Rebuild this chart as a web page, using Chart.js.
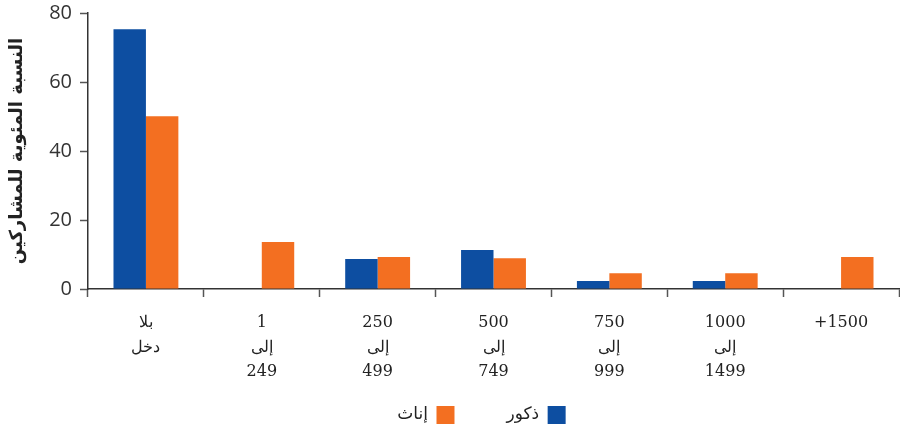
<!DOCTYPE html>
<html lang="ar">
<head>
<meta charset="utf-8">
<script src="https://cdn.jsdelivr.net/npm/chart.js@4/dist/chart.umd.min.js"></script>
<style>
  html, body { margin: 0; padding: 0; background: #ffffff; }
  #wrap { width: 900px; height: 425px; position: relative; }
  /* Arabic text flow for all canvas text */
  #chart { direction: rtl; }
</style>
</head>
<body>
<div id="wrap"><canvas id="chart"></canvas></div>
<script>
// Income brackets (monthly), shown as stacked lines under each group
const categories = [
  ['بلا', 'دخل'],
  ['1', 'إلى', '249'],
  ['250', 'إلى', '499'],
  ['500', 'إلى', '749'],
  ['750', 'إلى', '999'],
  ['1000', 'إلى', '1499'],
  ['1500+']
];

// Percentage of participants per bracket
const maleValues   = [75.3, 0, 8.7, 11.3, 2.3, 2.3, 0];
const femaleValues = [50.1, 13.6, 9.3, 8.9, 4.6, 4.6, 9.3];

const seriesNames = ['ذكور', 'إناث'];
const yAxisTitle = 'النسبة المئوية للمشاركين';
const yTickValues = [0, 20, 40, 60, 80];

const BLUE = '#0d4ea1';
const ORANGE = '#f36f21';

// Moves the legend block after layout: a little to the right so it sits
// under the bars, and up into the space below the three-line axis labels
const legendShift = {
  id: 'legendShift',
  afterLayout(chart) {
    const lg = chart.legend;
    if (!lg) return;
    lg.left += 32; lg.right += 32;
    lg.top -= 40; lg.bottom -= 40;
  }
};

new Chart(document.getElementById('chart'), {
  type: 'bar',
  data: {
    labels: categories,
    datasets: [
      { label: seriesNames[0], data: maleValues, backgroundColor: BLUE, borderWidth: 0 },
      { label: seriesNames[1], data: femaleValues, backgroundColor: ORANGE, borderWidth: 0 }
    ]
  },
  plugins: [legendShift],
  options: {
    responsive: true,
    maintainAspectRatio: false,
    animation: false,
    layout: { padding: { top: 13, right: 1, bottom: -49, left: 0 } },
    datasets: { bar: { categoryPercentage: 0.56, barPercentage: 1.0 } },
    plugins: {
      tooltip: { enabled: false },
      legend: {
        position: 'bottom',
        rtl: true,
        textDirection: 'rtl',
        labels: {
          boxWidth: 18,
          boxHeight: 18,
          padding: 52,
          color: '#222',
          font: { family: '"DejaVu Sans", "Noto Sans", sans-serif', size: 17 }
        }
      }
    },
    scales: {
      x: {
        offset: true,
        grid: {
          display: true,
          offset: true,
          drawOnChartArea: false,
          drawTicks: true,
          tickLength: 8,
          tickWidth: 1.5,
          tickColor: '#555'
        },
        border: { display: true, color: '#333', width: 1.5 },
        ticks: {
          maxRotation: 0,
          autoSkip: false,
          padding: 14,
          color: '#222',
          font: { family: '"DejaVu Serif", "Liberation Serif", serif', size: 16, lineHeight: 1.53 }
        },
        afterFit(scale) { scale.height = 105; }
      },
      y: {
        min: 0,
        max: 80,
        afterBuildTicks(scale) { scale.ticks = yTickValues.map(v => ({ value: v })); },
        grid: {
          display: true,
          drawOnChartArea: false,
          drawTicks: true,
          tickLength: 8,
          tickWidth: 1.5,
          tickColor: '#555'
        },
        border: { display: true, color: '#333', width: 1.5 },
        ticks: {
          padding: 8,
          color: '#333',
          font: { family: '"Open Sans", "Noto Sans", sans-serif', size: 20 }
        },
        title: {
          display: true,
          text: yAxisTitle,
          color: '#222',
          padding: { top: 7, bottom: 0 },
          font: { family: '"DejaVu Sans", "Noto Sans", sans-serif', size: 18, weight: 'bold' }
        },
        afterFit(scale) {
          scale.width = 88;
          scale.paddingTop = 0;
          scale.paddingBottom = 0;
        }
      }
    }
  }
});
</script>
</body>
</html>
